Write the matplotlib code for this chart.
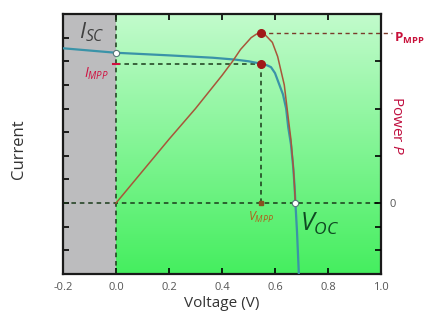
import numpy as np
import matplotlib
matplotlib.use('Agg')
import matplotlib.pyplot as plt
from matplotlib.colors import LinearSegmentedColormap

# ---- data ----
voltage = [-0.2, 0.0, 0.2, 0.365, 0.45, 0.5, 0.546, 0.57, 0.585, 0.6, 0.61, 0.63,
           0.642, 0.65, 0.66, 0.668, 0.674, 0.677, 0.683, 0.69]
current = [6.55, 6.36, 6.25, 6.15, 6.07, 6.0, 5.9, 5.83, 5.75, 5.5, 5.2, 4.6,
           4.0, 3.2, 2.5, 1.6, 0.7, 0.0, -1.2, -3.0]

p_voltage = [0.0, 0.1, 0.2, 0.3, 0.4, 0.44, 0.47, 0.51, 0.53, 0.546, 0.56, 0.573,
             0.59, 0.61, 0.635, 0.65, 0.66, 0.67, 0.677]
power = [0.0, 1.35, 2.7, 4.0, 5.4, 6.0, 6.5, 7.0, 7.15, 7.2, 7.15, 7.0,
         6.8, 6.2, 5.0, 3.6, 2.7, 1.4, 0.0]

v_mpp, i_mpp, p_mpp = 0.546, 5.9, 7.2
i_sc, v_oc = 6.36, 0.677

x_ticks = [-0.2, 0.0, 0.2, 0.4, 0.6, 0.8, 1.0]
x_tick_labels = ['-0.2', '0.0', '0.2', '0.4', '0.6', '0.8', '1.0']
y_ticks = [-2, -1, 0, 1, 2, 3, 4, 5, 6, 7]
p_ticks = [-2, -1, 0, 2, 4, 6]
p_tick_labels = ['', '', '0', '', '', '']

plt.rcParams['font.family'] = ['Open Sans', 'DejaVu Sans']
plt.rcParams['mathtext.fontset'] = 'custom'
plt.rcParams['mathtext.rm'] = 'Open Sans'
plt.rcParams['mathtext.it'] = 'Open Sans:italic'
plt.rcParams['mathtext.bf'] = 'Open Sans:bold'

fig = plt.figure(figsize=(4.27, 3.23), dpi=100)
ax = fig.add_axes([63/427, 49/323, 318/427, 260/323])
xlim = (-0.2, 1.0)
ylim = (-3.0, 8.0)

# backgrounds
ax.axvspan(-0.2, 0.0, color='#bcbcbe', zorder=0)
green = LinearSegmentedColormap.from_list('g', ['#45ee5f', '#c2fbcc'])
grad = np.linspace(0, 1, 256).reshape(-1, 1)
ax.imshow(grad, extent=[0.0, 1.0, ylim[0], ylim[1]], origin='lower', cmap=green,
          aspect='auto', zorder=0)

dash = dict(color='#1a3a1a', lw=1.1, ls=(0, (3, 2.5)), zorder=2)
ax.axhline(0, **dash)
ax.axvline(0, **dash)
ax.plot([0, v_mpp], [i_mpp, i_mpp], **dash)
ax.plot([v_mpp, v_mpp], [0, i_mpp], **dash)
ax.plot([v_mpp, 1.04], [p_mpp, p_mpp], clip_on=False, color='#7a3a2a', lw=1.0,
        ls=(0, (3, 2.5)), zorder=2)

ax.plot(voltage, current, color='#3a93a8', lw=1.6, zorder=3)
ax.plot(p_voltage, power, color='#a8563a', lw=1.1, zorder=3)

ax.plot([0], [i_sc], 'o', ms=4.5, mfc='white', mec='#557777', mew=0.8, zorder=5)
ax.plot([v_oc], [0], 'o', ms=4.5, mfc='white', mec='#557777', mew=0.8, zorder=5)
ax.plot([v_mpp], [p_mpp], 'o', ms=5.5, color='#a01818', zorder=5)
ax.plot([v_mpp], [i_mpp], 'o', ms=5.5, color='#a01818', zorder=5)
ax.plot([-0.012, 0.012], [i_mpp, i_mpp], color='#d01040', lw=1.5, zorder=4)
ax.plot([v_mpp], [0], marker='s', ms=3, color='#8a5020', zorder=4)

ax.set_xlim(*xlim)
ax.set_ylim(*ylim)
ax.set_xticks(x_ticks)
ax.set_xticklabels(x_tick_labels)
ax.set_yticks(y_ticks)
ax.set_yticklabels([])
ax.tick_params(direction='in', length=4, width=1.2, top=True, labelsize=8,
               labelcolor='#555555', pad=6)
for s in ax.spines.values():
    s.set_linewidth(1.6)
    s.set_color('#1a1a1a')
ax.set_xlabel('Voltage (V)', fontsize=11, color='#333333', labelpad=2)
ax.set_ylabel('Current', fontsize=12, color='#333333')
ax.yaxis.set_label_coords(-0.113, 0.48)

ax2 = ax.twinx()
ax2.set_ylim(*ylim)
ax2.set_yticks(p_ticks)
ax2.set_yticklabels(p_tick_labels)
ax2.tick_params(direction='in', length=4, width=1.2, labelsize=8,
                labelcolor='#555555', pad=6)
ax2.set_ylabel('Power $P$', fontsize=11, color='#c01040', rotation=270, va='center')
ax2.yaxis.set_label_coords(1.05, 0.57)
for s in ax2.spines.values():
    s.set_visible(False)

ax.text(-0.09, 7.25, '$I_{SC}$', fontsize=16, color='#404040', ha='center', va='center')
ax.text(-0.075, 5.45, '$I_{MPP}$', fontsize=10, color='#d01040', ha='center', va='center')
ax.text(v_mpp, -0.6, '$V_{MPP}$', fontsize=9, color='#b0601a', ha='center', va='center')
ax.text(0.77, -0.9, '$V_{OC}$', fontsize=18, color='#0f4a22', ha='center', va='center')
ax.text(1.05, 6.95, r'$\mathbf{P_{MPP}}$', fontsize=9.5, color='#c8103a',
        ha='left', va='center', clip_on=False)

fig.savefig('out.png', dpi=100)
